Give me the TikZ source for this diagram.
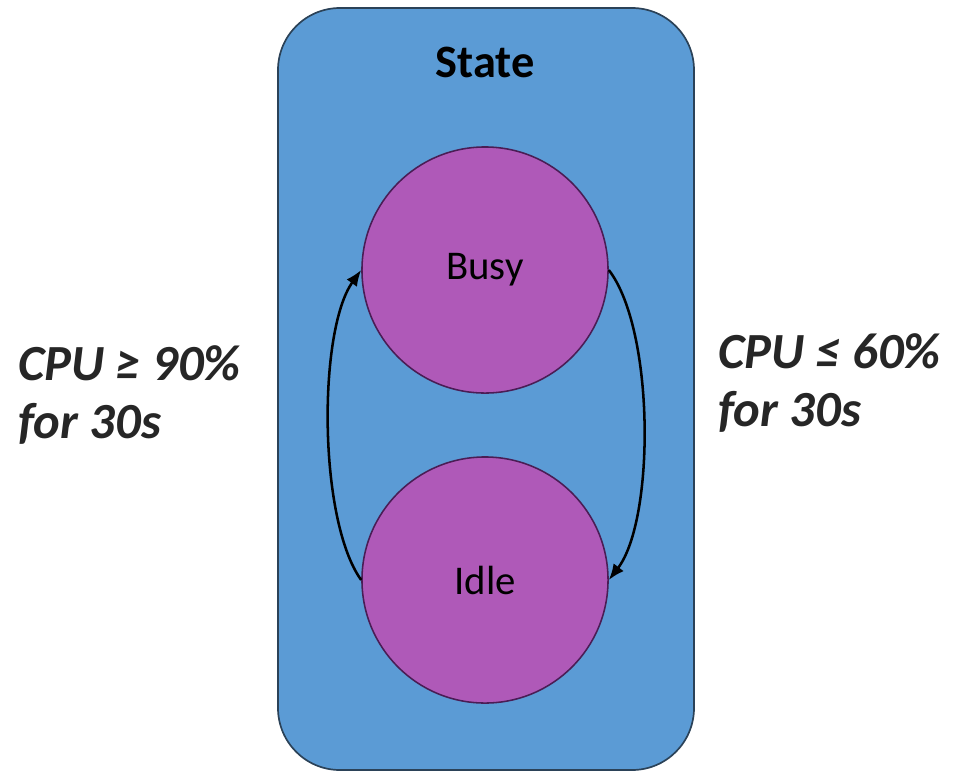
\documentclass[tikz,border=0pt]{standalone}
\usepackage{fontspec}
\setmainfont{Carlito}
\usepackage{tikz}
\usetikzlibrary{positioning,arrows.meta}
\definecolor{boxblue}{HTML}{5B9BD5}
\definecolor{boxedge}{HTML}{2B4258}
\definecolor{stfill}{HTML}{AF59B8}
\definecolor{stedge}{HTML}{4A1D55}
\tikzset{
  grp/.style  = {draw=boxedge, fill=boxblue, line width=1.2pt, rounded corners=1.55cm},
  st/.style   = {circle, draw=stedge, fill=stfill, line width=1.1pt,
                 minimum size=6.15cm, inner sep=0pt, font=\fontsize{29}{34}\selectfont},
  ar/.style   = {-{Latex[length=4mm, width=3.2mm]}, line width=1.8pt},
  lbl/.style  = {font=\fontsize{36}{41}\selectfont\bfseries\itshape, align=left,
                 inner sep=0pt, text=black!85},
}

\begin{document}
\begin{tikzpicture}[x=0.025cm, y=-0.025cm]
\useasboundingbox (0,0) rectangle (960,772);

% --- outer box ---
\draw[grp] (278,8) rectangle (694,770);
\node[font=\fontsize{33}{38}\selectfont\bfseries] (title) at (485,62) {State};

% --- states ---
\node[st] (busy) at (485,270) {Busy};
\node[st] (idle) at (485,580) {Idle};

\draw[ar] (idle.west) .. controls (318,520) and (318,330) .. (busy.west);
\draw[ar] (busy.east) .. controls (655,330) and (655,520) .. (idle.east);

\node[lbl, anchor=west] (up) at (18,395) {CPU ≥ 90\%\\for 30s};
\node[lbl, anchor=west] (down) at (718,383) {CPU ≤ 60\%\\for 30s};
\end{tikzpicture}
\end{document}
